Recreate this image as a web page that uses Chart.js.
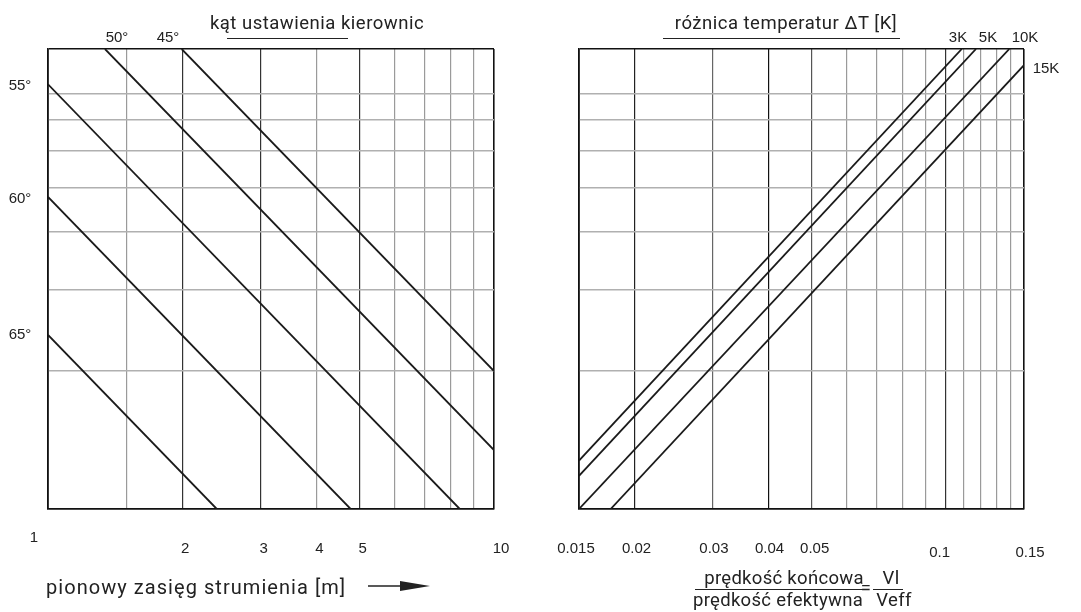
<!DOCTYPE html>
<html lang="pl">
<head>
  <meta charset="UTF-8">
  <title>Nomogram - zasięg strumienia</title>
  <script src="https://cdn.jsdelivr.net/npm/chart.js"></script>
  <style>
    body { margin: 0; background: #fff; }
    .wrap { position: relative; width: 1081px; height: 612px; overflow: hidden; }
    canvas { position: absolute; top: 0; }
    #leftChart { left: 0; }
    #rightChart { left: 540px; }
    .lbl { position: absolute; transform: translate(-50%, -50%); white-space: nowrap;
           font: 15px "Liberation Sans", Arial, sans-serif; color: #222; }
    .ttl { position: absolute; transform: translate(-50%, -50%); white-space: nowrap;
           font: 18.5px Roboto, sans-serif; letter-spacing: 0.5px; color: #222; }
    .frac { letter-spacing: 0.3px; }
    .rule { position: absolute; height: 0; border-top: 1.4px solid #222; }
  </style>
</head>
<body>
<div class="wrap">
  <canvas id="leftChart" width="540" height="612"></canvas>
  <canvas id="rightChart" width="541" height="612"></canvas>

  <!-- naglowki -->
  <div class="ttl" style="left:317px; top:23px;">kąt ustawienia kierownic</div>
  <div class="rule" style="left:227px; top:38px; width:121px;"></div>
  <div class="ttl" style="left:786px; top:23px;">różnica temperatur ΔT [K]</div>
  <div class="rule" style="left:663px; top:38px; width:237px;"></div>

  <!-- opisy linii -->
  <div class="lbl" style="left:117px; top:36px;">50°</div>
  <div class="lbl" style="left:168px; top:36px;">45°</div>
  <div class="lbl" style="left:20px; top:84px;">55°</div>
  <div class="lbl" style="left:20px; top:197px;">60°</div>
  <div class="lbl" style="left:20px; top:333px;">65°</div>
  <div class="lbl" style="left:958px; top:36px;">3K</div>
  <div class="lbl" style="left:988px; top:36px;">5K</div>
  <div class="lbl" style="left:1025px; top:36px;">10K</div>
  <div class="lbl" style="left:1046px; top:67px;">15K</div>

  <!-- opisy osi -->
  <div class="ttl" style="left:46px; top:587px; transform:translate(0,-50%); font-size:20px; letter-spacing:1.05px;">pionowy zasięg strumienia [m]</div>
  <svg style="position:absolute; left:366px; top:578px;" width="68" height="16">
    <line x1="2" y1="8" x2="36" y2="8" stroke="#222" stroke-width="1.5"/>
    <polygon points="34,3 64,8 34,13" fill="#222"/>
  </svg>
  <div class="ttl frac" style="left:784px; top:578px;">prędkość końcowa</div>
  <div class="rule" style="left:695px; top:589px; width:168px;"></div>
  <div class="ttl frac" style="left:778px; top:600px;">prędkość efektywna</div>
  <div class="ttl" style="left:866px; top:588px;">=</div>
  <div class="ttl frac" style="left:891px; top:578px;">Vl</div>
  <div class="rule" style="left:873px; top:589px; width:30px;"></div>
  <div class="ttl frac" style="left:894px; top:600px;">Veff</div>
</div>

<script>
  // ---- dane: lewy wykres (kat ustawienia kierownic) ----
  const angleLabels = ["65°", "60°", "55°", "50°", "45°"];
  const angleX = [[1, 2.39], [1, 4.77], [1, 8.38], [1.342, 10], [1.994, 10]];
  const angleY = [[2.39, 1], [4.77, 1], [8.38, 1], [10, 1.343], [10, 1.995]];
  const rangeTicks = [1, 1.5, 2, 3, 4, 5, 6, 7, 8, 9, 10];
  const rangeLabels = [1, 2, 3, 4, 5, 10];

  // ---- dane: prawy wykres (roznica temperatur) ----
  const dtLabels = ["3K", "5K", "10K", "15K"];
  const dtX = [[0.015, 0.1087], [0.015, 0.117], [0.015, 0.139], [0.01767, 0.15]];
  const dtY = [[1.274, 10], [1.181, 10], [1, 10], [1, 9.22]];
  const ratioTicks = [0.015, 0.02, 0.03, 0.04, 0.05, 0.06, 0.07, 0.08, 0.09, 0.1, 0.11, 0.12, 0.13, 0.14, 0.15];
  const ratioLabels = [0.015, 0.02, 0.03, 0.04, 0.05, 0.1, 0.15];

  // wspolna os pionowa nomogramu
  const yTicks = [1, 2, 3, 4, 5, 6, 7, 8, 10];

  // style siatki
  const darkLeft = [2, 3, 5];
  const darkRight = { 0.02: "#222", 0.03: "#666", 0.04: "#111", 0.05: "#555", 0.1: "#333" };

  function makeSets(labels, xs, ys) {
    return labels.map((l, i) => ({
      label: l,
      data: xs[i].map((x, j) => ({ x: x, y: ys[i][j] })),
      borderColor: "#1a1a1a",
      borderWidth: 1.8,
      pointRadius: 0,
      fill: false,
      tension: 0,
    }));
  }

  // podpisy osi X rysowane przez skale
  const tickText = {
    id: "tickText",
    afterDraw(chart, args, opts) {
      const ctx = chart.ctx;
      const sx = chart.scales.x;
      const base = chart.chartArea.bottom + 40;
      ctx.save();
      ctx.font = '15px "Liberation Sans", Arial, sans-serif';
      ctx.fillStyle = "#222";
      ctx.textAlign = "center";
      ctx.textBaseline = "middle";
      opts.values.forEach((v) => {
        const n = opts.nudge[v] || [3, 0];
        ctx.fillText(String(v), sx.getPixelForValue(v) + n[0], base + n[1]);
      });
      ctx.restore();
    },
  };

  function makeChart(id, sets, xMin, xMax, xTicks, xColor, labels, nudge, pad) {
    return new Chart(document.getElementById(id), {
      type: "line",
      data: { datasets: sets },
      options: {
        responsive: false,
        animation: false,
        layout: { padding: pad },
        plugins: {
          legend: { display: false },
          tooltip: { enabled: false },
          tickText: { values: labels, nudge: nudge },
        },
        scales: {
          x: {
            type: "logarithmic",
            min: xMin,
            max: xMax,
            afterBuildTicks: (s) => { s.ticks = xTicks.map((v) => ({ value: v })); },
            ticks: { display: false },
            grid: {
              drawTicks: false,
              color: (c) => xColor(c.tick.value),
              lineWidth: (c) => (c.tick.value === xMin || c.tick.value === xMax ? 1.6 : 1.2),
            },
            border: { display: true, color: "#111", width: 1.6 },
          },
          y: {
            type: "logarithmic",
            min: 1,
            max: 10,
            afterBuildTicks: (s) => { s.ticks = yTicks.map((v) => ({ value: v })); },
            ticks: { display: false },
            grid: {
              drawTicks: false,
              color: (c) => (c.tick.value === 1 || c.tick.value === 10 ? "#111" : "#b0b0b0"),
              lineWidth: 1.6,
            },
            border: { display: true, color: "#111", width: 1.6 },
          },
        },
      },
      plugins: [tickText],
    });
  }

  makeChart(
    "leftChart",
    makeSets(angleLabels, angleX, angleY),
    1, 10, rangeTicks,
    (v) => (v === 1 || v === 10 ? "#111" : darkLeft.includes(v) ? "#333" : "#9a9a9a"),
    rangeLabels,
    { 1: [-14, -11], 10: [7, 0] },
    { left: 48, right: 46, top: 49, bottom: 103 }
  );

  makeChart(
    "rightChart",
    makeSets(dtLabels, dtX, dtY),
    0.015, 0.15, ratioTicks,
    (v) => (v === 0.015 || v === 0.15 ? "#111" : darkRight[v] || "#9a9a9a"),
    ratioLabels,
    { 0.015: [-3, 0], 0.02: [2, 0], 0.03: [1, 0], 0.04: [1, 0], 0.1: [-6, 4], 0.15: [6, 4] },
    { left: 39, right: 57, top: 49, bottom: 103 }
  );
</script>
</body>
</html>
